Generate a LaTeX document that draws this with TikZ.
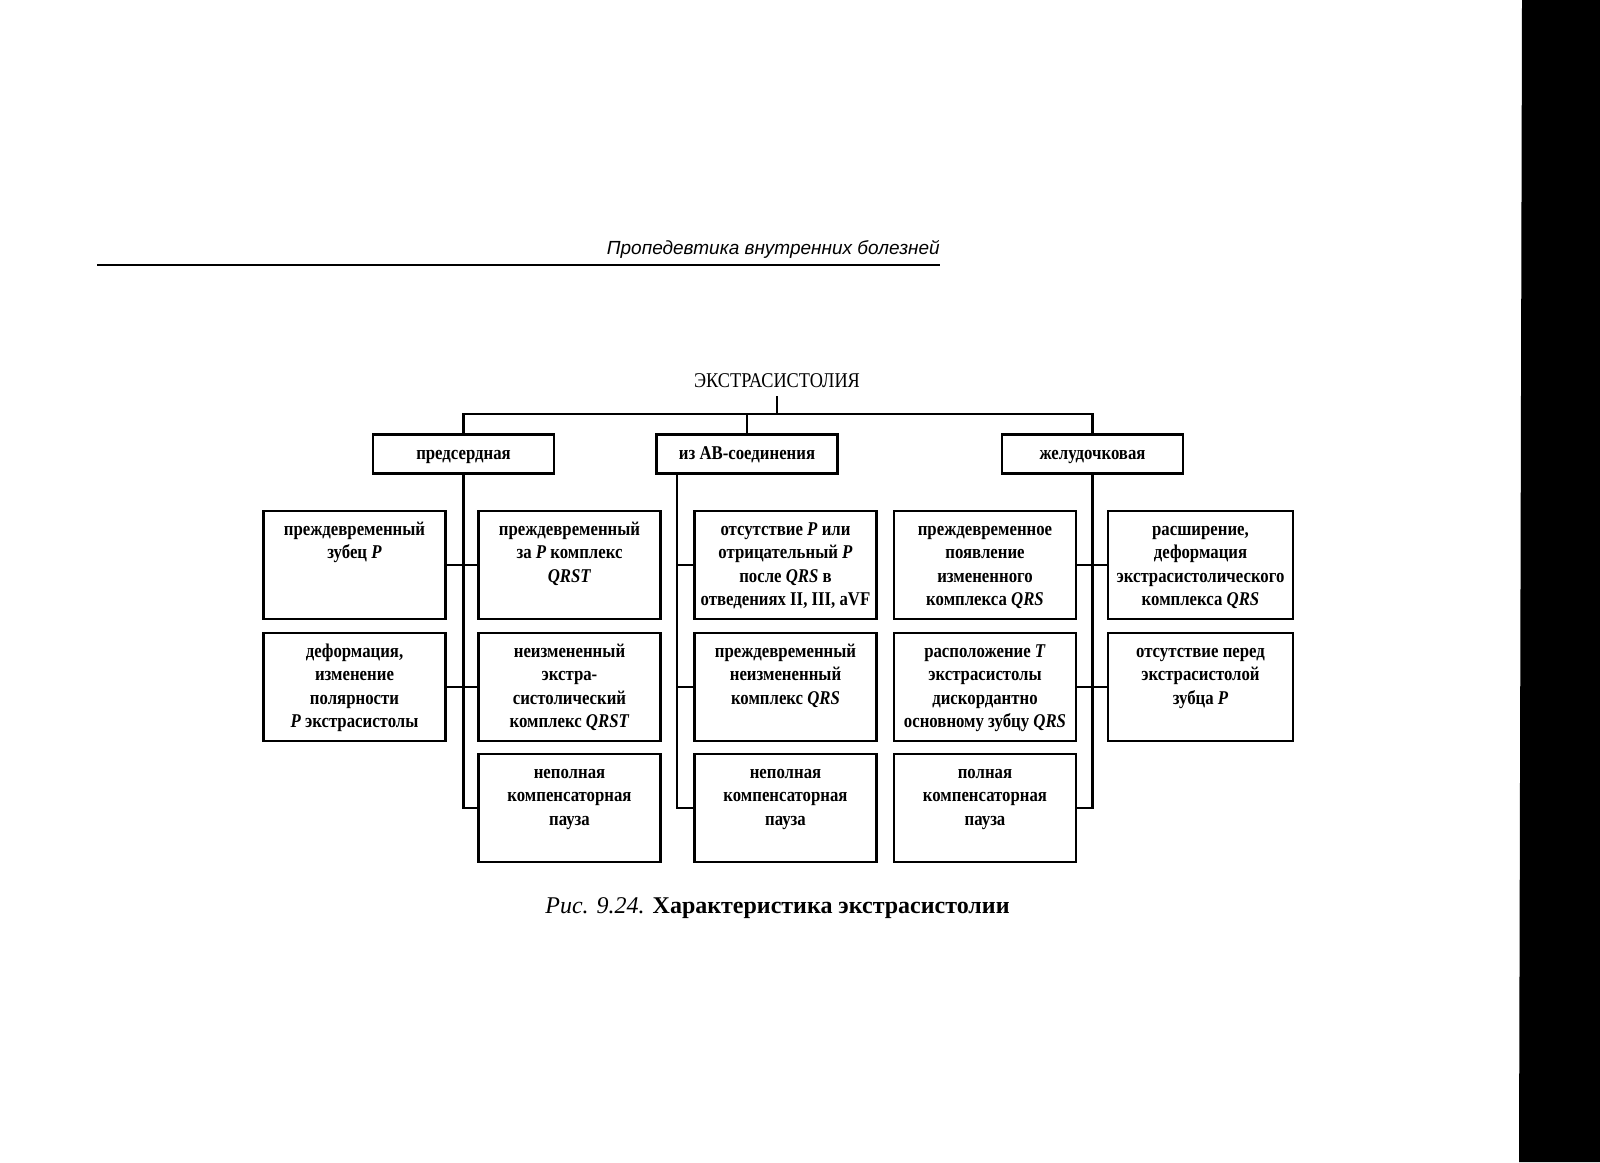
\documentclass[tikz,border=0pt]{standalone}
\usepackage{fontspec}
\setmainfont{Liberation Serif}
\newfontfamily\boxfont[FakeStretch=0.86]{Liberation Serif}
\newfontfamily\titlefont[FakeStretch=0.87]{Liberation Serif}
\newfontfamily\hdrfont{Liberation Sans}
\newcommand\fbtext[1]{\parbox[t]{182pt}{\centering #1}}
\begin{document}
\begin{tikzpicture}[x=1pt,y=-1pt,
  lvlbox/.style={draw, line width=2.5pt, minimum width=181pt, inner sep=0pt,
    text height=25.5pt, text depth=13.5pt,
    font=\boxfont\bfseries\fontsize{19.5}{23.4}\selectfont},
  featbox/.style={draw, line width=2.5pt, minimum width=182pt, inner xsep=0pt, inner ysep=0pt,
    text height=24.5pt, text depth=83.5pt,
    font=\boxfont\bfseries\fontsize{19.5}{23.4}\selectfont},
  conn/.style={line width=2.3pt}]
\useasboundingbox (0,0) rectangle (1600,1162);
\fill[white] (0,0) rectangle (1600,1162);
% scanner edge
\fill[black] (1522,0) -- (1600,0) -- (1600,1162) -- (1519,1162) -- cycle;
% running header
\node[anchor=base east, inner sep=0pt, font=\hdrfont\itshape\fontsize{19}{22}\selectfont] (hdr) at (940,254) {Пропедевтика внутренних болезней};
\coordinate (rl) at (97,265);
\coordinate (rr) at (940,265);
\draw[line width=2.7pt] (rl) -- (rr);
% title
\node[inner sep=0pt, anchor=base, font=\titlefont\fontsize{21}{24}\selectfont] (title) at (777,387) {ЭКСТРАСИСТОЛИЯ};
\coordinate (bus) at (777,414);
% level 1
\node[lvlbox, anchor=north] (pred) at (463.5,433) {предсердная};
\node[lvlbox, anchor=north] (av) at (747,433) {из АВ-соединения};
\node[lvlbox, anchor=north] (zh) at (1092.5,433) {желудочковая};
% features (anchor north at box tops)
\node[featbox, anchor=north] (A1) at (354.5,509.5) {\fbtext{преждевременный\\зубец \textit{P}}};
\node[featbox, anchor=north] (A2) at (354.5,631.5) {\fbtext{деформация,\\изменение\\полярности\\\textit{P} экстрасистолы}};
\node[featbox, anchor=north] (B1) at (569.5,509.5) {\fbtext{преждевременный\\за \textit{P} комплекс\\\textit{QRST}}};
\node[featbox, anchor=north] (B2) at (569.5,631.5) {\fbtext{неизмененный\\экстра-\\систолический\\комплекс \textit{QRST}}};
\node[featbox, anchor=north] (B3) at (569.5,752.5) {\fbtext{неполная\\компенсаторная\\пауза}};
\node[featbox, anchor=north] (C1) at (785.5,509.5) {\fbtext{отсутствие \textit{P} или\\отрицательный \textit{P}\\после \textit{QRS} в\\отведениях II, III, aVF}};
\node[featbox, anchor=north] (C2) at (785.5,631.5) {\fbtext{преждевременный\\неизмененный\\комплекс \textit{QRS}}};
\node[featbox, anchor=north] (C3) at (785.5,752.5) {\fbtext{неполная\\компенсаторная\\пауза}};
\node[featbox, anchor=north] (D1) at (985,509.5) {\fbtext{преждевременное\\появление\\измененного\\комплекса \textit{QRS}}};
\node[featbox, anchor=north] (D2) at (985,631.5) {\fbtext{расположение \textit{T}\\экстрасистолы\\дискордантно\\основному зубцу \textit{QRS}}};
\node[featbox, anchor=north] (D3) at (985,752.5) {\fbtext{полная\\компенсаторная\\пауза}};
\node[featbox, anchor=north, minimum width=185pt] (E1) at (1200.5,509.5) {\fbtext{расширение,\\деформация\\экстрасистолического\\комплекса \textit{QRS}}};
\node[featbox, anchor=north, minimum width=185pt] (E2) at (1200.5,631.5) {\fbtext{отсутствие перед\\экстрасистолой\\зубца \textit{P}}};
% top connectors
\draw[conn] (title.south |- 0,396) -- (bus);
\draw[conn] (pred.north) -- (pred.north |- bus) -- (zh.north |- bus) -- (zh.north);
\draw[conn] (av.north) -- (av.north |- bus);
% trunks
\coordinate (avt) at (677,472);
\draw[conn] (pred.south) |- (B3.west);
\draw[conn] (A1.east) -- (B1.west);
\draw[conn] (A2.east) -- (B2.west);
\draw[conn] (avt) |- (C3.west);
\draw[conn] (avt |- C1.west) -- (C1.west);
\draw[conn] (avt |- C2.west) -- (C2.west);
\draw[conn] (zh.south) |- (D3.east);
\draw[conn] (D1.east) -- (E1.west);
\draw[conn] (D2.east) -- (E2.west);
% caption
\node[anchor=base, inner sep=0pt, font=\fontsize{24}{28}\selectfont] (cap) at (777.5,913) {\textit{Рис. 9.24.} \textbf{Характеристика экстрасистолии}};
\end{tikzpicture}
\end{document}
